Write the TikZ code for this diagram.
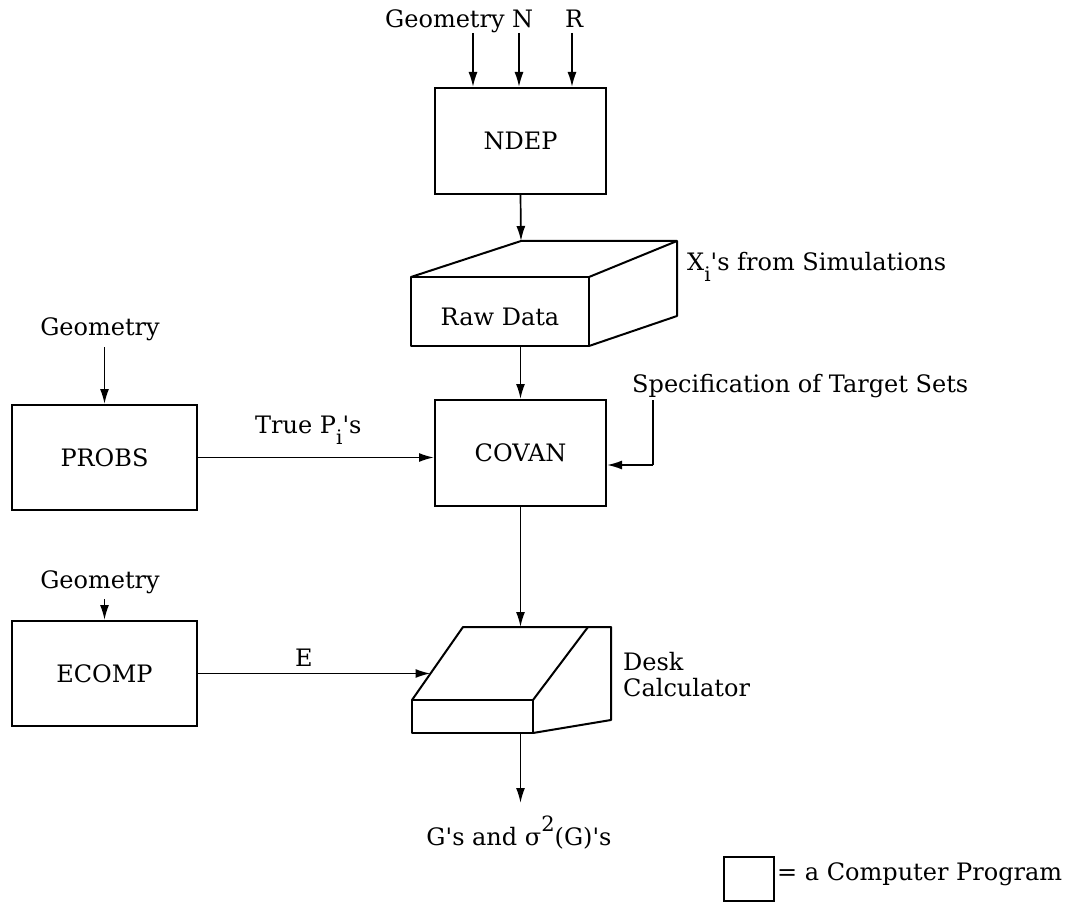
\documentclass[tikz,border=0pt]{standalone}
\usepackage{fontspec}
\setmainfont{DejaVu Serif}
\usetikzlibrary{arrows.meta,calc}

% lowered subscript "i" and straight apostrophe, as set on the sheet
\newcommand{\lowi}{\raisebox{-11pt}{\fontsize{20}{20}\selectfont i}}
\newcommand{\ap}{\textquotesingle}

\tikzset{
  prog/.style={draw, line width=2pt, inner sep=0pt},
  lbl/.style={inner sep=0pt},
  flow/.style={line width=1.7pt, -{Latex[length=15pt,width=9pt]}},
  solidbody/.style={line width=2pt, line join=round},
}

\begin{document}
\begin{tikzpicture}[x=1pt,y=-1pt,font=\fontsize{24}{27}\selectfont]
\useasboundingbox (0,0) rectangle (1074,904);

% ---- program boxes ----
\node[prog, minimum width=171pt, minimum height=106pt] (ndep)  at (520.5,141) {NDEP};
\node[prog, minimum width=171pt, minimum height=106pt] (covan) at (520.5,453) {COVAN};
\node[prog, minimum width=185pt, minimum height=105pt] (probs) at (104.5,457.5) {PROBS};
\node[prog, minimum width=185pt, minimum height=105pt] (ecomp) at (104.5,673.5) {ECOMP};

% ---- inputs to NDEP ----
\node[lbl, anchor=base west] (geoTop) at (385,28) {Geometry};
\node[lbl, anchor=base west] (lblN) at (512,28) {N};
\node[lbl, anchor=base west] (lblR) at (565,28) {R};
\coordinate (inG) at (473,33);
\coordinate (inN) at (519,33);
\coordinate (inR) at (572,33);
\draw[flow] (inG) -- (inG |- ndep.north);
\draw[flow] (inN) -- (inN |- ndep.north);
\draw[flow] (inR) -- (inR |- ndep.north);

% ---- raw data store (box in perspective) ----
\coordinate (rawA) at (411,277);
\coordinate (rawB) at (589,277);
\coordinate (rawC) at (589,346);
\coordinate (rawD) at (411,346);
\coordinate (rawE) at (521,241);
\coordinate (rawF) at (677,241);
\coordinate (rawG) at (677,316);
\draw[solidbody] (rawD) -- (rawA) -- (rawB) -- (rawC) -- cycle;
\draw[solidbody] (rawA) -- (rawE) -- (rawF) -- (rawG) -- (rawC);
\draw[solidbody] (rawB) -- (rawF);
\node[lbl, anchor=base] (rawtxt) at (500,325) {Raw Data};
\node[lbl, anchor=base west] (xlbl) at (687,270) {X\lowi\ap s from Simulations};

\draw[flow] (ndep.south) -- (rawE);
\draw[flow] (covan.north |- rawD) -- (covan.north);

% ---- target set specification ----
\node[lbl, anchor=base west] (spec) at (632,392) {Specification of Target Sets};
\coordinate (specIn) at (653,400);
\draw[line width=1.7pt] (specIn) -- (specIn |- 0,465);
\draw[flow] (specIn |- 0,465) -- ([yshift=-12pt]covan.east);

% ---- PROBS ----
\node[lbl, anchor=base] (geoP) at (100,335) {Geometry};
\coordinate (inGP) at (104.5,347);
\draw[flow] (inGP) -- (probs.north);
\draw[flow] (probs.east) -- (probs.east -| covan.west);
\node[lbl, anchor=base west] (truep) at (255,433) {True P\lowi\ap s};

% ---- ECOMP ----
\node[lbl, anchor=base] (geoE) at (100,588) {Geometry};
\coordinate (inGE) at (104.5,599);
\draw[flow] (inGE) -- (ecomp.north);

% ---- desk calculator ----
\coordinate (dkT1) at (463,627);
\coordinate (dkT2) at (588,627);
\coordinate (dkT3) at (611,627);
\coordinate (dkF1) at (412,700);
\coordinate (dkF2) at (533,700);
\coordinate (dkF3) at (533,733);
\coordinate (dkF4) at (412,733);
\coordinate (dkR)  at (611,720);
\draw[solidbody] (dkF4) -- (dkF1) -- (dkF2) -- (dkF3) -- cycle;
\draw[solidbody] (dkF1) -- (dkT1) -- (dkT3) -- (dkR) -- (dkF3);
\draw[solidbody] (dkF2) -- (dkT2);
\node[lbl, anchor=north west, align=left] (desklbl) at (623,652) {Desk\\[-1pt]Calculator};

\coordinate (dkIn) at (430.5,673.5);
\draw[flow] (ecomp.east) -- (dkIn);
\node[lbl, anchor=base] (elbl) at (304,666) {E};

\draw[flow] (covan.south) -- (covan.south |- dkT1);

% ---- results ----
\coordinate (outEnd) at (520.5,803);
\draw[flow] (covan.south |- dkF3) -- (outEnd);
\node[lbl, anchor=base] (result) at (519,845)
  {G\ap s and σ\raisebox{14pt}{\fontsize{21}{21}\selectfont 2}(G)\ap s};

% ---- key ----
\node[prog, minimum width=50pt, minimum height=44pt] (key) at (749,879) {};
\node[lbl, anchor=base west] (keytxt) at (777,880) {= a Computer Program};
\end{tikzpicture}
\end{document}
